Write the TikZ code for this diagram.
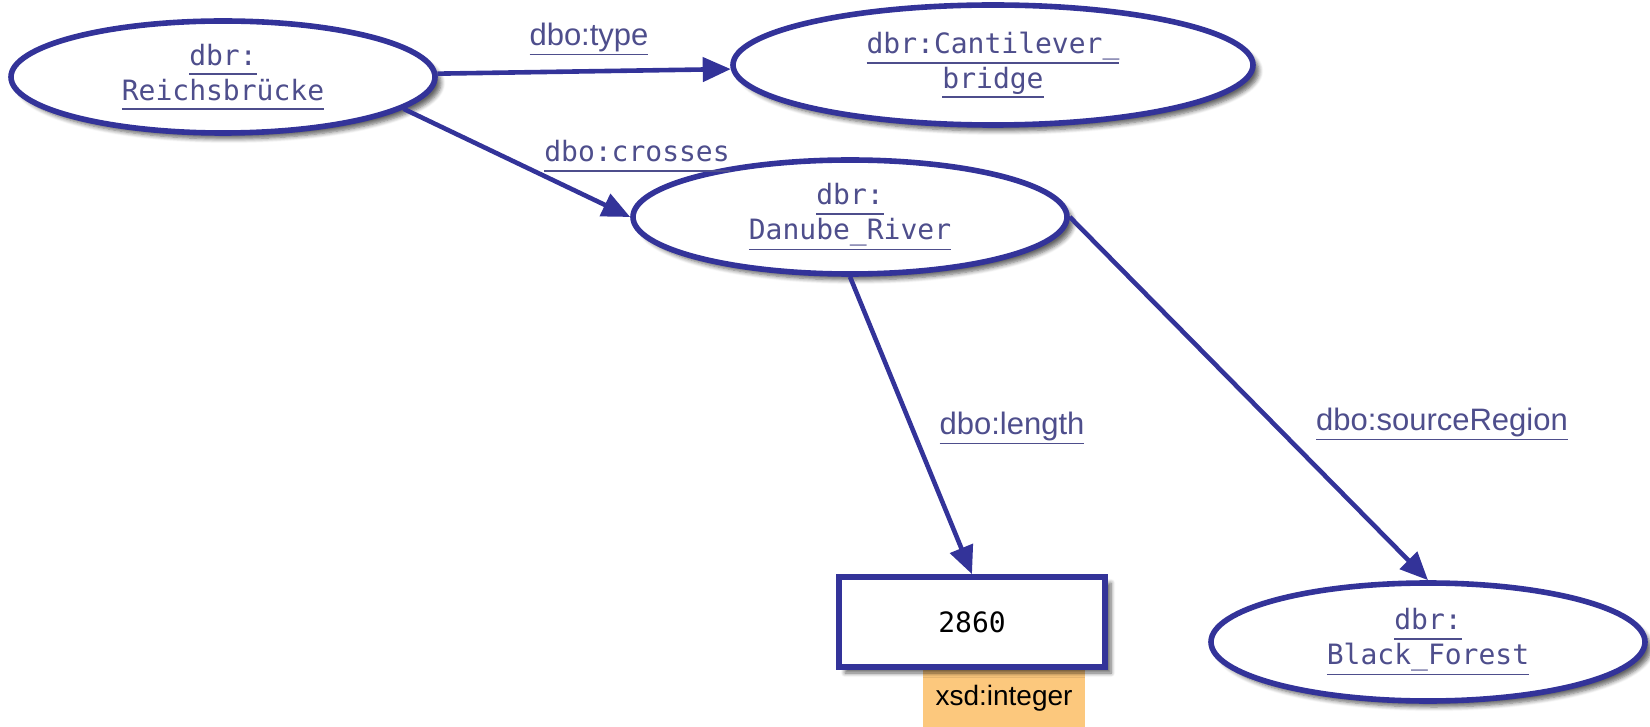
\documentclass[tikz,border=0pt]{standalone}
\usepackage{fontspec}
\setmainfont{Liberation Sans}
\setmonofont{DejaVu Sans Mono}
\usetikzlibrary{arrows.meta,shapes.geometric,shadows.blur}
\definecolor{rdfblue}{RGB}{51,51,153}
\definecolor{rdftext}{RGB}{78,78,140}
\definecolor{dtorange}{RGB}{252,200,125}
\newcommand{\uri}[1]{\leavevmode\vtop{\hbox{#1\vphantom{g}}\kern1pt\hrule height0.9pt}}

\begin{document}
\begin{tikzpicture}[x=0.5pt,y=-0.5pt,
  res/.style={ellipse,draw=rdfblue,line width=2.8pt,fill=white,inner sep=0pt,align=center,
    text=rdftext,font=\ttfamily\fontsize{14}{17.5}\selectfont,
    blur shadow={shadow xshift=3pt,shadow yshift=-3pt,shadow blur steps=6,shadow opacity=60}},
  lit/.style={rectangle,draw=rdfblue,line width=2.8pt,fill=white,inner sep=0pt,
    font=\ttfamily\fontsize{14}{17}\selectfont,
    blur shadow={shadow xshift=3pt,shadow yshift=-3pt,shadow blur steps=6,shadow opacity=60}},
  prop/.style={draw=rdfblue,line width=2.3pt,-{Triangle[length=14pt,width=12pt]}},
  plabel/.style={text=rdftext,font=\fontsize{15.5}{18}\selectfont}]
\useasboundingbox (0,0) rectangle (1650,727);

\node[res,minimum width=212pt,minimum height=56pt] (reich) at (223,77) {\uri{dbr:}\\\uri{Reichsbrücke}};
\node[res,minimum width=260pt,minimum height=60pt] (cant) at (993,65) {\uri{dbr:Cantilever\_}\\\uri{bridge}};
\node[res,minimum width=217pt,minimum height=57pt] (danube) at (850,217) {\uri{dbr:}\\\uri{Danube\_River}};
\node[res,minimum width=217pt,minimum height=59pt] (forest) at (1428,642) {\uri{dbr:}\\\uri{Black\_Forest}};

\node[fill=dtorange,minimum width=81pt,minimum height=28.5pt,inner sep=0pt,font=\fontsize{14}{17}\selectfont] (dtype) at (1004,698.5) {xsd:integer};
\node[lit,minimum width=133pt,minimum height=45pt] (val) at (972,622) {2860};

\draw[prop] (reich) -- (cant);
\draw[prop] (reich.-10) -- (danube.west);
\draw[prop] (danube.south) -- (val.north);
\draw[prop] (danube.east) -- (forest.north);

\node[plabel] (ltype) at (589,39) {\uri{dbo:type}};
\node[plabel,font=\ttfamily\fontsize{14}{17}\selectfont] (lcross) at (637,156) {\uri{dbo:crosses}};
\node[plabel] (llength) at (1012,428) {\uri{dbo:length}};
\node[plabel] (lsource) at (1442,424) {\uri{dbo:sourceRegion}};
\end{tikzpicture}
\end{document}
